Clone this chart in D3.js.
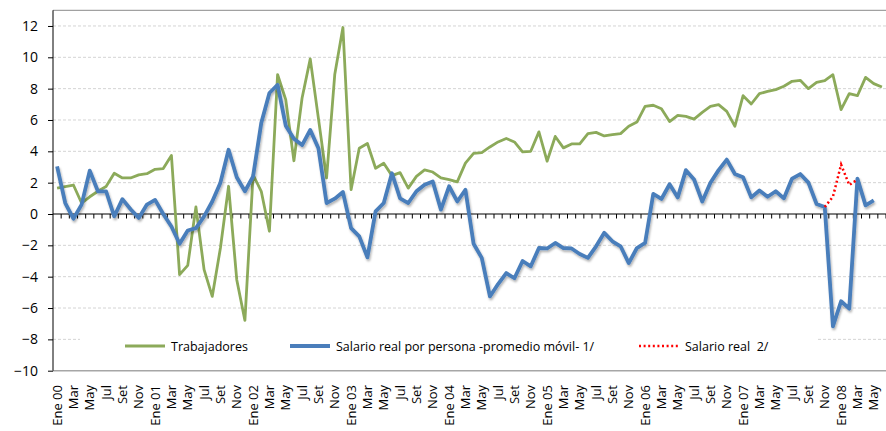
<!DOCTYPE html>
<html>
<head>
<meta charset="utf-8">
<script src="https://cdn.jsdelivr.net/npm/d3@7"></script>
<style>
  body { margin: 0; background: #fff; }
  svg { display: block; font-family: "Open Sans", sans-serif; }
</style>
</head>
<body>
<svg id="chart" width="886" height="431"></svg>
<script>
// data: monthly, Ene 00 .. Jun 08
const meses = ["Ene", "Feb", "Mar", "Abr", "May", "Jun", "Jul", "Ago", "Set", "Oct", "Nov", "Dic"];
const anios = ["00", "01", "02", "03", "04", "05", "06", "07", "08"];
const nMeses = 102;

const trabajadores = [
  1.65, 1.75, 1.85, 0.7, 1.1, 1.45, 1.75, 2.6, 2.3, 2.3,
  2.5, 2.57, 2.85, 2.9, 3.74, -3.87, -3.28, 0.45, -3.55, -5.26,
  -2.17, 1.77, -4.19, -6.79, 2.5, 1.45, -1.1, 8.9, 7.3, 3.4,
  7.4, 9.9, 6.1, 2.3, 8.9, 11.9, 1.55, 4.2, 4.5, 2.92,
  3.24, 2.45, 2.64, 1.65, 2.4, 2.82, 2.68, 2.3, 2.2, 2.05,
  3.25, 3.87, 3.92, 4.28, 4.6, 4.82, 4.6, 3.97, 4.0, 5.24,
  3.37, 4.95, 4.22, 4.47, 4.47, 5.13, 5.21, 4.98, 5.06, 5.13,
  5.6, 5.87, 6.87, 6.94, 6.72, 5.9, 6.3, 6.23, 6.06, 6.49,
  6.87, 6.98, 6.55, 5.6, 7.55, 7.02, 7.68, 7.83, 7.94, 8.15,
  8.47, 8.53, 8.0, 8.4, 8.51, 8.89, 6.66, 7.68, 7.55, 8.72,
  8.32, 8.11
];

const salarioMovil = [
  3.04, 0.7, -0.3, 0.6, 2.77, 1.45, 1.45, -0.15, 0.95, 0.3,
  -0.25, 0.6, 0.9, 0.0, -0.8, -1.9, -1.05, -0.9, -0.15, 0.8,
  2.0, 4.1, 2.35, 1.45, 2.4, 5.8, 7.72, 8.25, 5.64, 4.8,
  4.4, 5.36, 4.2, 0.7, 0.98, 1.4, -0.9, -1.43, -2.77, 0.17,
  0.7, 2.6, 1.0, 0.7, 1.45, 1.87, 2.08, 0.28, 1.77, 0.8,
  1.55, -1.9, -2.8, -5.26, -4.47, -3.77, -4.1, -3.0, -3.34, -2.17,
  -2.2, -1.85, -2.17, -2.2, -2.55, -2.8, -2.06, -1.2, -1.74, -2.06,
  -3.13, -2.17, -1.85, 1.28, 0.96, 1.9, 1.06, 2.8, 2.2, 0.8,
  2.0, 2.8, 3.47, 2.55, 2.34, 1.06, 1.5, 1.1, 1.45, 1.0,
  2.26, 2.55, 2.0, 0.64, 0.45, -7.17, -5.57, -6.04, 2.26, 0.55,
  0.87
];

// Salario real 2/ : Nov 07 .. Mar 08
const salarioReal2 = [0.45, 1.1, 3.15, 1.85, 2.2];
const inicioReal2 = 94;

const yTicks = [-10, -8, -6, -4, -2, 0, 2, 4, 6, 8, 10, 12];

const legendItems = [
  { label: "Trabajadores", color: "#8caa5a", dash: null, width: 2.8, x: 125 },
  { label: "Salario real por persona -promedio móvil- 1/", color: "#4a7ebb", dash: null, width: 3.8, x: 290 },
  { label: "Salario real  2/", color: "#ff0000", dash: "2,2.6", width: 2.5, x: 639 }
];

// categories
const categorias = d3.range(nMeses);
const etiqueta = i => {
  const m = i % 12;
  if (m === 0) return meses[m] + " " + anios[Math.floor(i / 12)];
  return m % 2 === 0 ? meses[m] : "";
};

const svg = d3.select("#chart");
const plotLeft = 53, plotRight = 886, plotTop = 10.3, plotBottom = 370.7;

const x = d3.scaleBand().domain(categorias).range([plotLeft, plotRight]).paddingInner(0).paddingOuter(0);
const cx = i => x(i) + x.bandwidth() / 2;
const y = d3.scaleLinear().domain([-10, 13]).range([plotBottom, plotTop]);

// shadow for the blue line
const defs = svg.append("defs");
const f = defs.append("filter").attr("id", "sombra")
  .attr("x", "-5%").attr("y", "-5%").attr("width", "110%").attr("height", "115%");
f.append("feDropShadow").attr("dx", 1).attr("dy", 2).attr("stdDeviation", 1.2)
  .attr("flood-color", "#000").attr("flood-opacity", 0.3);

// gridlines
svg.append("g").selectAll("line")
  .data(yTicks.filter(d => d !== 0 && d !== -10))
  .enter().append("line")
  .attr("x1", plotLeft).attr("x2", plotRight)
  .attr("y1", d => y(d)).attr("y2", d => y(d))
  .attr("stroke", "#d4d4d4").attr("stroke-width", 1)
  .attr("stroke-dasharray", "3,2");

// frame top / bottom
svg.append("line").attr("x1", plotLeft).attr("x2", plotRight).attr("y1", plotTop).attr("y2", plotTop)
  .attr("stroke", "#8a8a8a").attr("stroke-width", 1);
svg.append("line").attr("x1", plotLeft).attr("x2", plotRight).attr("y1", y(-10)).attr("y2", y(-10))
  .attr("stroke", "#a6a6a6").attr("stroke-width", 1.6);

// y axis
const yAxis = svg.append("g").attr("transform", `translate(${plotLeft},0)`)
  .call(d3.axisLeft(y).tickValues(yTicks).tickSize(5).tickPadding(10).tickFormat(d3.format("d")));
yAxis.select(".domain").attr("d", `M0,${plotTop}V${plotBottom}`).attr("stroke", "#000");
yAxis.selectAll("text").attr("font-size", 14).attr("fill", "#000")
  .attr("font-family", "'Open Sans', sans-serif");

// zero axis with ticks at category boundaries
svg.append("line").attr("x1", plotLeft).attr("x2", plotRight).attr("y1", y(0)).attr("y2", y(0))
  .attr("stroke", "#000").attr("stroke-width", 1.2);
svg.append("g").selectAll("line")
  .data(d3.range(1, nMeses + 1))
  .enter().append("line")
  .attr("x1", k => plotLeft + k * x.bandwidth()).attr("x2", k => plotLeft + k * x.bandwidth())
  .attr("y1", y(0)).attr("y2", y(0) + 4.5)
  .attr("stroke", "#000").attr("stroke-width", 1);

// month labels
svg.append("g").selectAll("text")
  .data(categorias.filter(i => etiqueta(i) !== ""))
  .enter().append("text")
  .attr("transform", i => `translate(${cx(i)},385) rotate(-90)`)
  .attr("dy", "0.36em")
  .attr("text-anchor", "end")
  .attr("font-size", 13)
  .attr("fill", "#000")
  .text(i => etiqueta(i));

// legend box
svg.append("rect").attr("x", 80).attr("y", 325).attr("width", 737).attr("height", 37).attr("fill", "#fff");

const linea = d3.line().x(d => cx(d.i)).y(d => y(d.v));

svg.append("path")
  .datum(trabajadores.map((v, i) => ({ i, v })))
  .attr("d", linea)
  .attr("fill", "none").attr("stroke", "#8caa5a").attr("stroke-width", 2.8)
  .attr("stroke-linejoin", "round");

svg.append("path")
  .datum(salarioMovil.map((v, i) => ({ i, v })))
  .attr("d", linea)
  .attr("fill", "none").attr("stroke", "#4a7ebb").attr("stroke-width", 3.8)
  .attr("stroke-linejoin", "round")
  .attr("filter", "url(#sombra)");

svg.append("path")
  .datum(salarioReal2.map((v, k) => ({ i: inicioReal2 + k, v })))
  .attr("d", linea)
  .attr("fill", "none").attr("stroke", "#ff0000").attr("stroke-width", 2.5)
  .attr("stroke-dasharray", "2,2.6");

// legend
const lg = svg.append("g").selectAll("g").data(legendItems).enter().append("g");
lg.append("line")
  .attr("x1", d => d.x).attr("x2", d => d.x + 40)
  .attr("y1", 346).attr("y2", 346)
  .attr("stroke", d => d.color).attr("stroke-width", d => d.width)
  .attr("stroke-dasharray", d => d.dash);
lg.append("text")
  .attr("x", d => d.x + 46).attr("y", 351)
  .attr("font-size", 12.5).attr("fill", "#000")
  .style("white-space", "pre")
  .text(d => d.label);
</script>
</body>
</html>
